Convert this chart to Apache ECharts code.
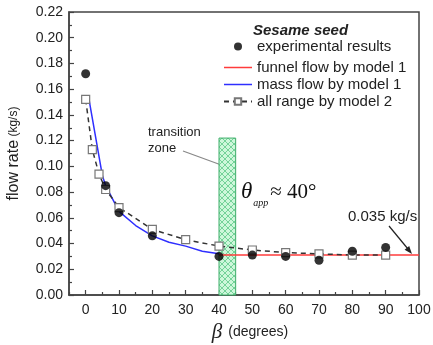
<!DOCTYPE html>
<html>
<head>
<meta charset="utf-8">
<script src="https://cdn.jsdelivr.net/npm/echarts@6/dist/echarts.min.js"></script>
<style>
  html, body { margin: 0; padding: 0; background: #fff; }
  #chart { width: 433px; height: 345px; }
</style>
</head>
<body>
<div id="chart"></div>
<script>
// experimental results (filled circles)
const expX = [0, 6, 10, 20, 40, 50, 60, 70, 80, 90]
const expY = [0.172, 0.085, 0.064, 0.046, 0.030, 0.031, 0.030, 0.027, 0.034, 0.037]
// funnel flow by model 1 (red)
const funnelX = [40, 100]
const funnelY = [0.031, 0.031]
// mass flow by model 1 (blue)
const massX = [1, 5, 6, 10, 15, 20, 25, 30, 35, 40]
const massY = [0.152, 0.093, 0.085, 0.065, 0.054, 0.046, 0.041, 0.038, 0.034, 0.032]
// all range by model 2 (dashed, open squares)
const m2X = [0, 2, 4, 6, 10, 20, 30, 40, 50, 60, 70, 80, 90]
const m2Y = [0.152, 0.113, 0.094, 0.082, 0.068, 0.051, 0.043, 0.038, 0.035, 0.033, 0.032, 0.031, 0.031]
// transition zone
const zoneX = [40, 45]
const zoneTop = 0.122
// ticks
const xMajor = [0, 10, 20, 30, 40, 50, 60, 70, 80, 90, 100]
const xMinor = [-5, 5, 15, 25, 35, 45, 55, 65, 75, 85, 95]

const pair = (xs, ys) => xs.map((x, i) => [x, ys[i]])

// cross-hatch pattern for the transition zone
const hatch = document.createElement('canvas')
hatch.width = 6
hatch.height = 6
const hc = hatch.getContext('2d')
hc.fillStyle = '#cdf7da'
hc.fillRect(0, 0, 6, 6)
hc.strokeStyle = '#5cc886'
hc.lineWidth = 0.8
hc.beginPath()
hc.moveTo(0, 0); hc.lineTo(6, 6)
hc.moveTo(6, 0); hc.lineTo(0, 6)
hc.stroke()

const sans = 'Liberation Sans, Arial, sans-serif'
const serif = 'Liberation Serif, Times New Roman, serif'
const legendText = { fontSize: 15, color: '#222' }
const lineIcon = 'path://M0,0L28,0L28,1.5L0,1.5Z'

const myChart = echarts.init(document.getElementById('chart'))
const option = {
  animation: false,
  textStyle: { fontFamily: sans, color: '#222' },
  title: {
    text: 'Sesame seed',
    left: 248,
    top: 18,
    textStyle: { fontSize: 15, fontWeight: 'bold', fontStyle: 'italic', color: '#222', fontFamily: sans },
  },
  legend: [
    {
      orient: 'vertical', left: 229, top: 34,
      itemWidth: 28, itemHeight: 8, itemGap: 3,
      textStyle: legendText,
      data: ['experimental results'],
    },
    {
      orient: 'vertical', left: 218, top: 55,
      itemWidth: 28, itemHeight: 8, itemGap: 2,
      textStyle: legendText,
      symbolKeepAspect: true,
      data: [
        { name: 'funnel flow by model 1', icon: lineIcon },
        { name: 'mass flow by model 1', icon: lineIcon },
        'all range by model 2',
      ],
    },
  ],
  grid: {
    left: 69, right: 14, top: 12, bottom: 50,
    outerBoundsMode: 'none',
    show: true, borderColor: '#444', borderWidth: 1.5, backgroundColor: 'transparent',
  },
  xAxis: [
    {
      type: 'value', min: -5, max: 100,
      name: '{b|β}{d|(degrees)}',
      nameLocation: 'middle', nameGap: 26,
      nameTextStyle: {
        padding: [0, 0, 0, 12],
        rich: {
          b: { fontFamily: serif, fontStyle: 'italic', fontSize: 21, color: '#222', padding: [0, 6, 0, 0] },
          d: { fontFamily: sans, fontSize: 14, color: '#222' },
        },
      },
      axisLine: { onZero: false, lineStyle: { color: '#444', width: 1.5 } },
      axisTick: { inside: true, length: 5, customValues: xMajor, lineStyle: { color: '#444', width: 1.2 } },
      axisLabel: { customValues: xMajor, fontSize: 14, color: '#222', margin: 8 },
      splitLine: { show: false },
    },
    {
      type: 'value', min: -5, max: 100, position: 'bottom',
      axisLine: { show: false, onZero: false },
      axisTick: { inside: true, length: 3, customValues: xMinor, lineStyle: { color: '#444', width: 1.2 } },
      axisLabel: { show: false },
      splitLine: { show: false },
    },
  ],
  yAxis: {
    type: 'value', min: 0, max: 0.22, interval: 0.02,
    name: '{a|flow rate} {b|(kg/s)}',
    nameLocation: 'middle', nameGap: 47,
    nameTextStyle: {
      rich: {
        a: { fontSize: 16, color: '#222' },
        b: { fontSize: 12, color: '#222' },
      },
    },
    axisLine: { show: true, onZero: false, lineStyle: { color: '#444', width: 1.5 } },
    axisTick: { inside: true, length: 5, lineStyle: { color: '#444', width: 1.2 } },
    minorTick: { show: true, splitNumber: 2, length: 3, lineStyle: { color: '#444', width: 1.2 } },
    axisLabel: { fontSize: 14, color: '#222', margin: 6, formatter: (v) => v.toFixed(2) },
    splitLine: { show: false },
  },
  series: [
    {
      name: 'funnel flow by model 1',
      type: 'line',
      data: pair(funnelX, funnelY),
      symbol: 'none',
      lineStyle: { color: '#ff3b3b', width: 1.5 },
      itemStyle: { color: '#ff3b3b' },
      markArea: {
        silent: true,
        itemStyle: { color: { image: hatch, repeat: 'repeat' }, borderColor: '#3fae6a', borderWidth: 1 },
        data: [[{ coord: [zoneX[0], 0] }, { coord: [zoneX[1], zoneTop] }]],
      },
      z: 3,
    },
    {
      name: 'mass flow by model 1',
      type: 'line',
      data: pair(massX, massY),
      symbol: 'none',
      lineStyle: { color: '#2f2fff', width: 1.5 },
      itemStyle: { color: '#2f2fff' },
      z: 3,
    },
    {
      name: 'all range by model 2',
      type: 'line',
      data: pair(m2X, m2Y),
      symbol: 'rect',
      symbolSize: 8,
      showAllSymbol: true,
      lineStyle: { color: '#333', width: 1.5, type: [5, 4] },
      itemStyle: { color: '#fff', borderColor: '#777', borderWidth: 1.2 },
      z: 4,
    },
    {
      name: 'experimental results',
      type: 'scatter',
      data: pair(expX, expY),
      symbolSize: 9,
      itemStyle: { color: '#000' },
      z: 5,
    },
  ],
  graphic: [
    {
      type: 'text', left: 148, top: 124,
      style: { text: 'transition\nzone', fontSize: 13, lineHeight: 16, fill: '#222', fontFamily: sans },
    },
    {
      type: 'line',
      shape: { x1: 183, y1: 151, x2: 224, y2: 166 },
      style: { stroke: '#888', lineWidth: 1.2 },
    },
    {
      type: 'polygon',
      shape: { points: [[229, 168], [221.4, 168.4], [223.5, 162.8]] },
      style: { fill: '#333' },
    },
    {
      type: 'text', left: 241, top: 180,
      style: {
        text: '{t|θ}{s|app}{r|≈ 40°}',
        rich: {
          t: { fontFamily: serif, fontStyle: 'italic', fontSize: 23, fill: '#111', verticalAlign: 'bottom' },
          s: { fontFamily: serif, fontStyle: 'italic', fontSize: 10, fill: '#111', verticalAlign: 'bottom', padding: [0, 2, -5, 1] },
          r: { fontFamily: serif, fontSize: 21, fill: '#111', verticalAlign: 'bottom' },
        },
      },
    },
    {
      type: 'text', left: 348, top: 209,
      style: { text: '0.035 kg/s', fontSize: 15, fill: '#222', fontFamily: sans },
    },
    {
      type: 'line',
      shape: { x1: 389, y1: 226, x2: 408, y2: 249 },
      style: { stroke: '#222', lineWidth: 1.2 },
    },
    {
      type: 'polygon',
      shape: { points: [[412, 254], [404.6, 249.7], [409.2, 245.9]] },
      style: { fill: '#222' },
    },
  ],
}
myChart.setOption(option)
</script>
</body>
</html>
